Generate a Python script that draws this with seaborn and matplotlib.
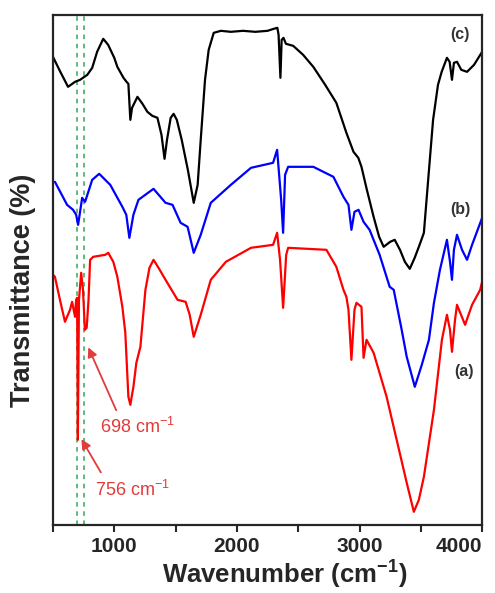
import numpy as np
import pandas as pd
import seaborn as sns
import matplotlib.pyplot as plt
from matplotlib.ticker import MultipleLocator

# FTIR spectra (transmittance in arbitrary units)
wn_c = [500, 560, 623, 680, 721, 780, 820, 860, 910, 950, 1000, 1025, 1075, 1100, 1115, 1131,
        1145, 1189, 1230, 1270, 1310, 1352, 1385, 1410, 1430, 1460, 1484, 1510, 1550, 1600,
        1648, 1680, 1705, 1740, 1770, 1811, 1870, 1950, 2050, 2150, 2250, 2300, 2330, 2340,
        2355, 2365, 2380, 2400, 2459, 2540, 2623, 2720, 2811, 2893, 2951, 2990, 3016, 3060,
        3115, 3160, 3197, 3250, 3287, 3330, 3370, 3410, 3450, 3490, 3525, 3560, 3600, 3640,
        3670, 3713, 3735, 3754, 3770, 3795, 3830, 3877, 3934, 4000]
t_c = [468, 453, 438, 443, 445, 450, 457, 473, 486, 480, 467, 458, 447, 443, 441, 405,
       417, 428, 421, 413, 409, 407, 390, 366, 385, 407, 411, 405, 385, 355,
       322, 340, 385, 445, 475, 492, 494, 493, 494, 493, 494, 496, 497, 490,
       447, 485, 487, 481, 479, 470, 458, 440, 422, 392, 373, 367, 358, 335,
       308, 288, 278, 283, 285, 275, 263, 256, 267, 280, 292, 345, 405, 440,
       453, 467, 463, 445, 462, 463, 455, 453, 460, 473]

wn_b = [516, 615, 664, 689, 705, 721, 738, 762, 820, 877, 967, 1066, 1098, 1123, 1156, 1197,
        1320, 1418, 1475, 1541, 1598, 1648, 1705, 1787, 1951, 2115, 2295, 2328, 2361, 2377,
        2393, 2418, 2623, 2787, 2869, 2910, 2934, 2959, 2992, 3033, 3082, 3164, 3246, 3279,
        3344, 3385, 3451, 3508, 3566, 3607, 3656, 3713, 3738, 3754, 3770, 3795, 3836, 3877,
        3918, 4000]
t_b = [343, 320, 315, 310, 300, 313, 327, 323, 345, 351, 340, 318, 310, 287, 310, 325,
       336, 322, 320, 302, 298, 272, 290, 322, 340, 357, 362, 375, 325, 292,
       350, 358, 358, 348, 328, 320, 295, 313, 315, 303, 295, 270, 238, 235,
       195, 168, 138, 160, 185, 222, 255, 285, 263, 245, 275, 290, 275, 265,
       280, 307]

wn_a = [500, 516, 557, 598, 639, 656, 680, 689, 697, 703, 712, 730, 745, 760, 775, 790,
        803, 828, 926, 951, 992, 1025, 1066, 1090, 1115, 1131, 1156, 1180, 1213, 1254,
        1287, 1320, 1361, 1418, 1516, 1582, 1615, 1648, 1705, 1787, 1910, 2115, 2295, 2328,
        2352, 2377, 2402, 2418, 2730, 2811, 2869, 2893, 2910, 2934, 2959, 2975, 3016, 3033,
        3057, 3115, 3221, 3303, 3385, 3443, 3484, 3525, 3607, 3672, 3713, 3738, 3754, 3779,
        3795, 3861, 3918, 3984, 4000]
t_a = [250, 248, 225, 203, 215, 223, 208, 225, 227, 85, 225, 252, 235, 195, 197, 225,
       265, 268, 270, 272, 263, 248, 218, 192, 128, 120, 138, 162, 178, 235,
       257, 265, 257, 245, 225, 223, 210, 188, 210, 245, 263, 277, 280, 292,
       265, 217, 270, 277, 275, 258, 235, 228, 215, 165, 215, 222, 218, 167,
       185, 172, 128, 85, 42, 13, 25, 48, 115, 185, 210, 195, 173, 205,
       220, 200, 220, 235, 243]

marked_bands = [698, 756]
band_labels = ["698 cm$^{-1}$", "756 cm$^{-1}$"]
curve_labels = ["(a)", "(b)", "(c)"]

sns.set_style("ticks")
plt.rcParams['font.family'] = ['Liberation Sans', 'DejaVu Sans']
plt.rcParams['mathtext.fontset'] = 'custom'
plt.rcParams['mathtext.rm'] = 'Liberation Sans'
plt.rcParams['mathtext.it'] = 'Liberation Sans:italic'
plt.rcParams['mathtext.bf'] = 'Liberation Sans:bold'
plt.rcParams['mathtext.default'] = 'rm'

df = pd.concat([
    pd.DataFrame({"wn": wn_a, "T": t_a, "sample": "a"}),
    pd.DataFrame({"wn": wn_b, "T": t_b, "sample": "b"}),
    pd.DataFrame({"wn": wn_c, "T": t_c, "sample": "c"}),
])

fig = plt.figure(figsize=(4.95, 5.93), dpi=100)
ax = fig.add_axes([0.107, 0.115, 0.867, 0.86])

sns.lineplot(data=df, x="wn", y="T", hue="sample", sort=False, estimator=None,
             palette={"a": "#ff0000", "b": "#0000ff", "c": "#000000"},
             linewidth=1.6, legend=False, ax=ax)

for b in marked_bands:
    ax.axvline(b, color="#33aa55", linestyle=(0, (3, 3)), linewidth=1.1, zorder=0)

ax.set_xlim(500, 4000)
ax.set_ylim(0, 510)
ax.set_yticks([])
ax.xaxis.set_major_locator(MultipleLocator(1000))
ax.xaxis.set_minor_locator(MultipleLocator(500))
ax.tick_params(axis="x", which="both", direction="out", length=5, width=1.5)
ax.tick_params(axis="x", labelsize=15)
ax.set_xticks([1000, 2000, 3000, 4000])
ax.set_xticklabels(["1000", "2000", "3000", "4000"], fontweight="bold")
ax.get_xticklabels()[-1].set_ha("right")
for s in ax.spines.values():
    s.set_visible(True)
    s.set_linewidth(1.6)

ax.set_xlabel("Wavenumber (cm$^{\\mathbf{-1}}$)", fontsize=18.5, fontweight="bold")
ax.set_ylabel("Transmittance (%)", fontsize=19.5, fontweight="bold")
ax.xaxis.set_label_coords(0.54, -0.066)
ax.yaxis.set_label_coords(-0.04, 0.46)

# curve labels
ax.text(3852, 153, curve_labels[0], fontsize=11.5, fontweight="bold", color="#333333", ha="center", va="center")
ax.text(3820, 315, curve_labels[1], fontsize=11.5, fontweight="bold", color="#333333", ha="center", va="center")
ax.text(3820, 490, curve_labels[2], fontsize=11.5, fontweight="bold", color="#333333", ha="center", va="center")

# band annotations
red_txt = "#e23b3b"
ax.annotate("", xy=(779, 180), xytext=(1025, 112),
            arrowprops=dict(arrowstyle="-|>", color=red_txt, lw=1.3, mutation_scale=14))
ax.text(1189, 98, band_labels[0], fontsize=13, color=red_txt, ha="center", va="center")
ax.annotate("", xy=(721, 88), xytext=(902, 50),
            arrowprops=dict(arrowstyle="-|>", color=red_txt, lw=1.3, mutation_scale=14))
ax.text(1148, 35, band_labels[1], fontsize=13, color=red_txt, ha="center", va="center")

fig.savefig("out.png", dpi=100)
